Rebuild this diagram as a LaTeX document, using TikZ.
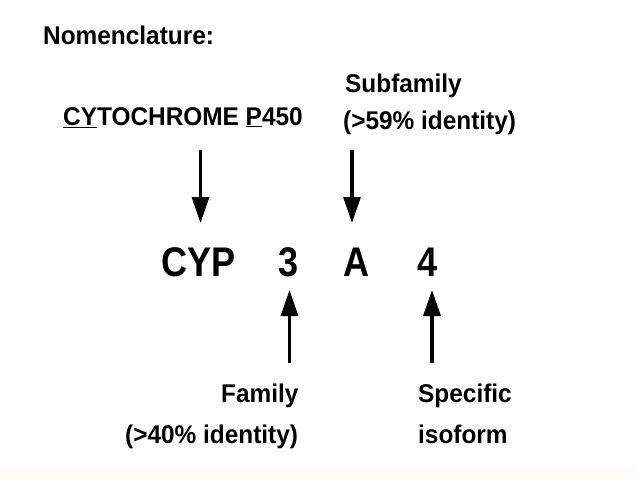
\documentclass[tikz,border=0pt]{standalone}
\usepackage{fontspec}
\setmainfont{Liberation Sans}
\usetikzlibrary{arrows.meta}
\definecolor{band}{HTML}{FDFBF3}
\tikzset{
  lbl/.style={anchor=base west, inner sep=0pt, font=\fontsize{24.4}{28}\selectfont\bfseries},
  big/.style={anchor=base west, inner sep=0pt, font=\fontsize{36}{40}\selectfont\bfseries},
  arr/.style={line width=3.2pt, -{Triangle[width=17pt,length=26pt]}}
}
\newcommand{\tallY}[1]{\scalebox{1}[1.15]{#1}}
\newcommand{\tallS}[1]{\scalebox{1}[1.05]{#1}}
\begin{document}
\begin{tikzpicture}[x=1pt,y=-1pt]
\useasboundingbox (0,0) rectangle (638,479);
\fill[white] (0,0) rectangle (638,479);
\fill[band] (0,469) rectangle (638,479);
\node[lbl] (nom) at (43,44) {\tallS{Nomenclature:}};
\node[lbl] (cyto) at (63,125) {\tallS{\underline{CY}TOCHROME \underline{P}450}};
\node[lbl] (sub) at (345,92) {\tallS{Subfamily}};
\node[lbl] (sub2) at (343,129) {\tallS{(>59\% identity)}};
\node[big] (cyp) at (161,276) {\tallY{CYP}};
\node[big] (three) at (278,276) {\tallY{3}};
\node[big] (A) at (343,276) {\tallY{A}};
\node[big] (four) at (417,276) {\tallY{4}};
\node[lbl] (fam) at (221,402) {\tallS{Family}};
\node[lbl] (fam2) at (125,443) {\tallS{(>40\% identity)}};
\node[lbl] (spec) at (418,402) {\tallS{Specific}};
\node[lbl] (iso) at (418,443) {\tallS{isoform}};
\coordinate (a1s) at (200.5,150);
\coordinate (a1e) at (200.5,223);
\coordinate (a2s) at (352,150);
\coordinate (a2e) at (352,223);
\coordinate (a3s) at (289.5,363);
\coordinate (a3e) at (289.5,290);
\coordinate (a4s) at (432,363);
\coordinate (a4e) at (432,290);
\draw[arr] (a1s) -- (a1e);
\draw[arr] (a2s) -- (a2e);
\draw[arr] (a3s) -- (a3e);
\draw[arr] (a4s) -- (a4e);
\end{tikzpicture}
\end{document}
